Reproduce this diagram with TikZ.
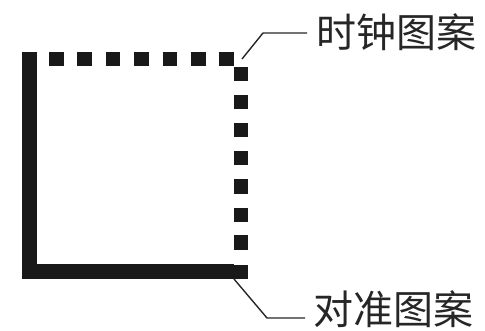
\documentclass[tikz,border=0pt]{standalone}
\usepackage{fontspec}
\newfontfamily\cjk{Noto Sans CJK SC}
\begin{document}
\begin{tikzpicture}[x=1pt,y=-1pt,
  blk/.style={fill=black!90},
  leader/.style={draw=black!85,line width=1.4pt},
  lbl/.style={font=\cjk\fontsize{40}{40}\selectfont,text=black!85,inner sep=0pt,anchor=west}]
\useasboundingbox (0,0) rectangle (485,331);
% solid L (alignment pattern)
\fill[blk] (22,52) rectangle (36.5,279.5);
\fill[blk] (22,264.5) rectangle (233.5,279.5);
% dotted top row and right column (clock pattern)
\foreach \x in {49,77,105.5,134,162.5,191,219}
  \fill[blk] (\x,52) rectangle ++(14.5,14.5);
\fill[blk] (233.5,67) rectangle ++(14.5,14.5);
\foreach \y in {95,123,151,179.5,208,235.5}
  \fill[blk] (233.5,\y) rectangle ++(14.5,14.5);
\fill[blk] (233.5,265) rectangle (248,279.5);
% labels
\node[lbl] (clock) at (316,32.5) {时钟图案};
\node[lbl] (align) at (313,309) {对准图案};
\coordinate (c1) at (242,59);
\coordinate (c2) at (263,33);
\coordinate (a1) at (234,279);
\coordinate (a2) at (267,318);
\draw[leader] (c1) -- (c2) -- ([xshift=-9pt]clock.west |- c2);
\draw[leader] (a1) -- (a2) -- ([xshift=-8pt]align.west |- a2);
\end{tikzpicture}
\end{document}
